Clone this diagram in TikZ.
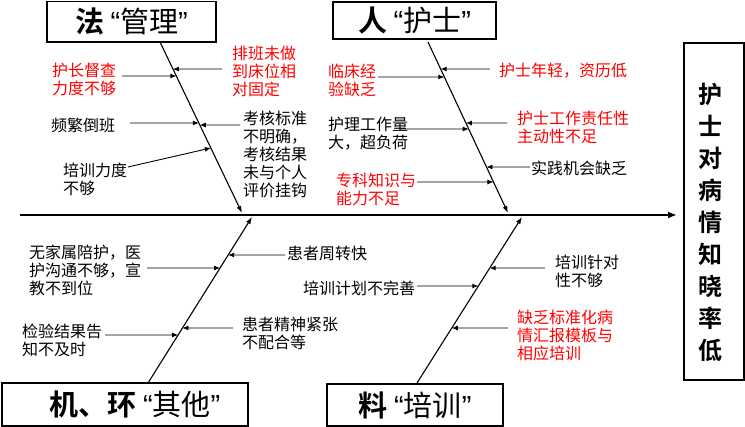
\documentclass[tikz,border=0pt]{standalone}
\usepackage{fontspec}
\setmainfont{Noto Sans CJK SC}[BoldFont=* Bold]
\newfontfamily\lat{Liberation Sans}
\usetikzlibrary{arrows.meta,calc}
\definecolor{cRed}{RGB}{255,0,0}
\tikzset{
  txt/.style={anchor=west, inner sep=0pt, align=left, font=\fontsize{16}{18}\selectfont},
  rtxt/.style={txt, text=cRed},
  arr/.style={-{Latex[length=6pt,width=5pt]}, line width=0.9pt},
  bone/.style={-{Latex[length=7pt,width=5pt]}, line width=1.1pt},
  spine/.style={-{Latex[length=9pt,width=7pt]}, line width=2pt},
  titlebox/.style={draw, line width=1.2pt, inner sep=0pt, font=\fontsize{29}{32}\selectfont},
}
\begin{document}
\begin{tikzpicture}[x=1pt,y=-1pt]
\useasboundingbox (0,0) rectangle (745,427);
% title boxes
\node[titlebox, minimum width=169pt, minimum height=40.5pt] (T1) at (131.5,21.75) {{\bfseries 法}\ {\lat “}管理{\lat ”}};
\node[titlebox, minimum width=163pt, minimum height=37pt] (T2) at (414.5,20.5) {{\bfseries 人}\ {\lat “}护士{\lat ”}};
\node[titlebox, minimum width=246pt, minimum height=43pt] (T3) at (125,404.5) {\hspace*{20pt}{\bfseries 机、环}\ {\lat “}其他{\lat ”}};
\node[titlebox, minimum width=176pt, minimum height=42pt] (T4) at (415,405) {{\bfseries 料}\ {\lat “}培训{\lat ”}};
% effect box
\node[draw, line width=1.2pt, minimum width=60pt, minimum height=337pt, inner sep=0pt] (eff) at (714,211.5) {};
\node[inner sep=0pt, align=center, font=\bfseries\fontsize{24}{32}\selectfont] (effT) at (710,222) {护\\士\\对\\病\\情\\知\\晓\\率\\低};
% spine
\coordinate (spS) at (20,215);
\coordinate (spE) at (677,215);
\draw[spine] (spS) -- (spE);
% bones
\coordinate (tlS) at (160,42);  \coordinate (tlE) at (242,213);
\coordinate (trS) at (428,42);  \coordinate (trE) at (508,213);
\coordinate (blS) at (148,383); \coordinate (blE) at (252,217);
\coordinate (brS) at (417,383); \coordinate (brE) at (522,217);
\draw[bone] (tlS) -- (tlE);
\draw[bone] (trS) -- (trE);
\draw[bone] (blS) -- (blE);
\draw[bone] (brS) -- (brE);
% texts top-left
\node[rtxt] (A1) at (52,79.5) {护长督查\\力度不够};
\node[rtxt] (A2) at (232,71) {排班未做\\到床位相\\对固定};
\node[txt] (A3) at (51,125) {频繁倒班};
\node[txt] (A4) at (243,154) {考核标准\\不明确，\\考核结果\\未与个人\\评价挂钩};
\node[txt] (A5) at (63,179) {培训力度\\不够};
% texts top-right
\node[rtxt] (B1) at (328,80.5) {临床经\\验缺乏};
\node[rtxt] (B2) at (499,71) {护士年轻，资历低};
\node[txt] (B3) at (328,134) {护理工作量\\大，超负荷};
\node[rtxt] (B4) at (517,127) {护士工作责任性\\主动性不足};
\node[txt] (B5) at (531,168) {实践机会缺乏};
\node[rtxt] (B6) at (336,189) {专科知识与\\能力不足};
% texts bottom-left
\node[txt] (C1) at (29,270) {无家属陪护，医\\护沟通不够，宣\\教不到位};
\node[txt] (C2) at (287,253) {患者周转快};
\node[txt] (C3) at (242,333.5) {患者精神紧张\\不配合等};
\node[txt] (C4) at (22,340) {检验结果告\\知不及时};
% texts bottom-right
\node[txt] (D1) at (303,288) {培训计划不完善};
\node[txt] (D2) at (555,271) {培训针对\\性不够};
\node[rtxt] (D3) at (517,335) {缺乏标准化病\\情汇报模板与\\相应培训};
% arrow starts
\coordinate (a1) at (122,76);  \coordinate (ha1) at ($(tlS)!0.1988!(tlE)$);
\coordinate (a2) at (222,69);  \coordinate (ha2) at ($(tlS)!0.1579!(tlE)$);
\coordinate (a3) at (130,123); \coordinate (ha3) at ($(tlS)!0.4737!(tlE)$);
\coordinate (a4) at (240,125); \coordinate (ha4) at ($(tlS)!0.4854!(tlE)$);
\coordinate (a5) at (128,167); \coordinate (ha5) at ($(tlS)!0.6199!(tlE)$);
\coordinate (b1) at (378,77);  \coordinate (hb1) at ($(trS)!0.2047!(trE)$);
\coordinate (b2) at (490,69);  \coordinate (hb2) at ($(trS)!0.1579!(trE)$);
\coordinate (b3) at (400,129); \coordinate (hb3) at ($(trS)!0.5088!(trE)$);
\coordinate (b4) at (507,123); \coordinate (hb4) at ($(trS)!0.4737!(trE)$);
\coordinate (b5) at (530,167); \coordinate (hb5) at ($(trS)!0.7310!(trE)$);
\coordinate (b6) at (417,182); \coordinate (hb6) at ($(trS)!0.8187!(trE)$);
\coordinate (c1) at (147,268); \coordinate (hc1) at ($(blS)!0.6928!(blE)$);
\coordinate (c2) at (285,255); \coordinate (hc2) at ($(blS)!0.7711!(blE)$);
\coordinate (c3) at (233,328); \coordinate (hc3) at ($(blS)!0.3313!(blE)$);
\coordinate (c4) at (105,335); \coordinate (hc4) at ($(blS)!0.2892!(blE)$);
\coordinate (d1) at (417,286); \coordinate (hd1) at ($(brS)!0.5843!(brE)$);
\coordinate (d2) at (545,268); \coordinate (hd2) at ($(brS)!0.6928!(brE)$);
\coordinate (d3) at (508,328); \coordinate (hd3) at ($(brS)!0.3313!(brE)$);
\foreach \p in {a1,a2,a3,a4,a5,b1,b2,b3,b4,b5,b6,c1,c2,c3,c4,d1,d2,d3}
  \draw[arr] (\p) -- (h\p);
\end{tikzpicture}
\end{document}
